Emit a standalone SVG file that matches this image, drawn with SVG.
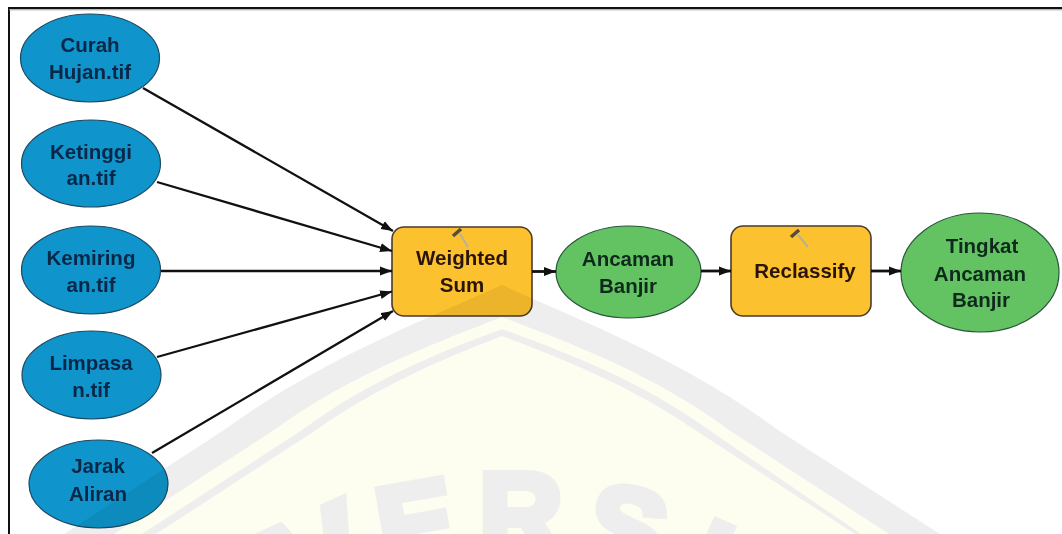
<svg xmlns="http://www.w3.org/2000/svg" width="1062" height="534" viewBox="0 0 1062 534">
<style>
text{font-family:"Liberation Sans",Arial,sans-serif;font-weight:700;font-size:20.5px;text-anchor:middle}
.in ellipse{fill:#0f95cb;stroke:#1d4a63;stroke-width:1.2}
.in text{fill:#0a2748}
.out ellipse{fill:#63c363;stroke:#27543a;stroke-width:1.2}
.out text{fill:#0f2a1c}
.tool rect{fill:#fcc12e;stroke:#4a3a2c;stroke-width:1.6}
.tool text{fill:#2a1408}
.head{stroke:#5a4a40;stroke-width:3.5;fill:none}
.handle{stroke:#b8b09a;stroke-width:2;fill:none}
#connectors line{stroke:#111;stroke-width:2.3;marker-end:url(#arrow)}
#connectors line.short{stroke-width:2.8}
#watermark{mix-blend-mode:multiply}
.wg{fill:#eeeeee}
.wc{fill:#fdfdf0}
#watermark text{fill:#eeeeee;stroke:#eeeeee;stroke-width:8;stroke-linejoin:miter;font-size:116px;text-anchor:start}
#watermark text.wide{font-size:135px}
</style>
<defs>
<marker id="arrow" markerUnits="userSpaceOnUse" markerWidth="14" markerHeight="12" refX="12" refY="5" orient="auto">
<path d="M0 0.5L12 5L0 9.5Z" fill="#111"/>
</marker>
</defs>
<rect width="1062" height="534" fill="#fff"/>
<g id="node-curah" class="in"><ellipse cx="90" cy="58" rx="69.5" ry="44"/><text x="90" y="52">Curah</text><text x="90" y="79">Hujan.tif</text></g>
<g id="node-ketinggian" class="in"><ellipse cx="91" cy="163.5" rx="69.5" ry="43.5"/><text x="91" y="159">Ketinggi</text><text x="91" y="185">an.tif</text></g>
<g id="node-kemiringan" class="in"><ellipse cx="91" cy="270" rx="69.5" ry="44"/><text x="91" y="265">Kemiring</text><text x="91" y="292">an.tif</text></g>
<g id="node-limpasan" class="in"><ellipse cx="91.500" cy="375" rx="69.5" ry="44"/><text x="91" y="370">Limpasa</text><text x="91" y="397">n.tif</text></g>
<g id="node-jarak" class="in"><ellipse cx="98.500" cy="484" rx="69.5" ry="44"/><text x="98" y="473">Jarak</text><text x="98" y="501">Aliran</text></g>
<g id="node-weighted" class="tool"><rect x="392" y="227" width="140" height="89" rx="12"/><path class="handle" d="M460 234L468 247"/><path class="head" d="M453 236L461 229"/><text x="462" y="265">Weighted</text><text x="462" y="292">Sum</text></g>
<g id="node-ancaman" class="out"><ellipse cx="628.500" cy="272" rx="72.500" ry="46"/><text x="628" y="266">Ancaman</text><text x="628" y="293">Banjir</text></g>
<g id="node-reclassify" class="tool"><rect x="731" y="226" width="140" height="90" rx="12"/><path class="handle" d="M798 235L808 247"/><path class="head" d="M791 237L799 230"/><text x="805" y="278">Reclassify</text></g>
<g id="node-tingkat" class="out"><ellipse cx="980" cy="272.500" rx="79" ry="59.500"/><text x="982" y="253">Tingkat</text><text x="980" y="281">Ancaman</text><text x="981" y="307">Banjir</text></g>
<g id="connectors">
<line x1="143" y1="88" x2="393" y2="231"/>
<line x1="157" y1="182" x2="392" y2="251"/>
<line x1="161" y1="271" x2="392" y2="271"/>
<line x1="157" y1="357" x2="392" y2="291.500"/>
<line x1="152" y1="453" x2="393" y2="311"/>
<line class="short" x1="532" y1="271.500" x2="556" y2="271.500"/>
<line class="short" x1="701" y1="271" x2="731" y2="271"/>
<line class="short" x1="871" y1="271" x2="901" y2="271"/>
</g>
<g id="watermark">
<path class="wg" d="M502 285C420 322 320 360 224 430L64 534H940L778 430C684 360 584 322 502 285Z"/>
<path class="wc" d="M502 317C430 345 350 375 274 430L114 534H889L729 430C655 375 575 345 502 317Z"/>
<path class="wg" d="M502 329C440 352 370 380 302 430L142 534H861L709 430C640 380 565 352 502 329Z"/>
<path class="wc" d="M502 336C445 358 380 385 316 430L156 534H855L695 430C630 385 560 358 502 336Z"/>
<text class="wide" transform="translate(299 620) rotate(-24)">V</text>
<text transform="translate(385 570) rotate(-10)">E</text>
<text transform="translate(479 555)">R</text>
<text transform="translate(581 560) rotate(12)">S</text>
<text transform="translate(677 591) rotate(24)">I</text>
</g>
<rect x="9" y="8" width="1100" height="600" fill="none" stroke="#111" stroke-width="2"/>
<path d="M9 9.800H1062" stroke="#999" stroke-width="1" fill="none"/>
</svg>
